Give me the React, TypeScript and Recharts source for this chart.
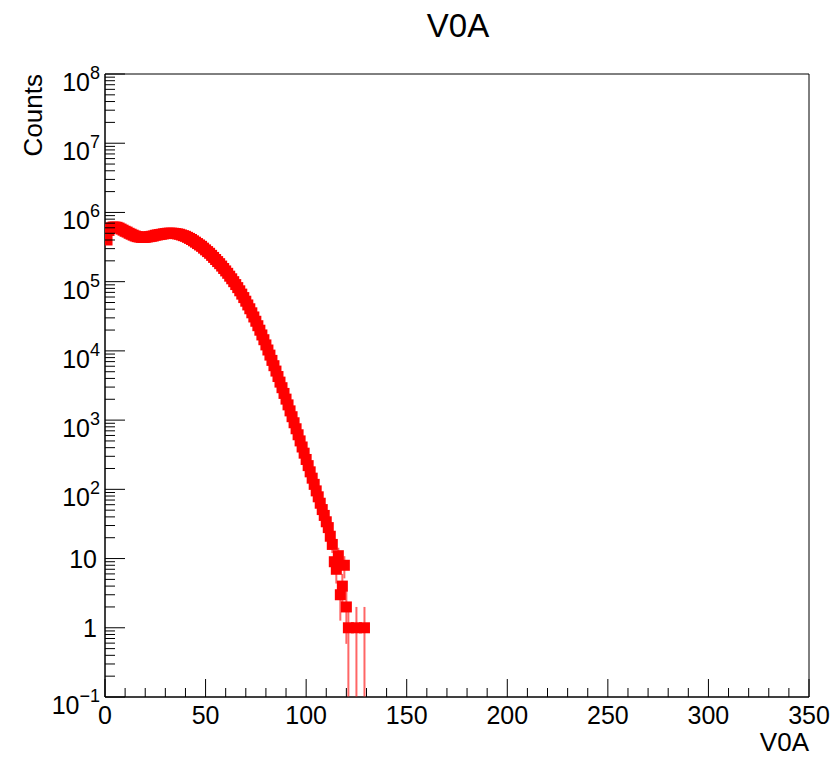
import React from "react";
import { ScatterChart, Scatter, XAxis, YAxis, ErrorBar, ReferenceArea } from "recharts";

// V0A histogram, one entry per bin (bin centre = index), 0 = empty bin
const binWidth = 1;
const counts = [
  560000, 400000, 550000, 600000, 615000, 615000, 610000, 595000, 575000, 555000,
  535000, 520000, 500000, 485000, 470000, 457000, 447000, 442000, 437000, 436000,
  437000, 442000, 447000, 452000, 457000, 468000, 473000, 479000, 484000, 490000,
  495000, 500000, 502000, 502000, 500000, 495000, 490000, 484000, 473000, 462000,
  452000, 437000, 422000, 407000, 389000, 372000, 355000, 339000, 324000, 305000,
  288000, 272000, 257000, 240000, 224000, 209000, 195000, 182000, 168000, 155000,
  143000, 132000, 120000, 110000, 100000, 90800, 82000, 73800, 66100, 58900,
  52200, 46100, 40600, 35500, 30900, 26800, 23100, 19900, 17000, 14500,
  12200, 10300, 8690, 7290, 6110, 5110, 4260, 3540, 2940, 2430,
  2010, 1660, 1360, 1120, 916, 750, 614, 501, 409, 333,
  270, 220, 179, 145, 118, 95, 78, 63, 51, 42,
  34, 28, 21, 16, 9, 7, 11, 3, 4, 8,
  2, 1, 0, 0, 0, 1, 0, 0, 0, 1,
];

const xTicks = [0, 10, 20, 30, 40, 50, 60, 70, 80, 90, 100, 110, 120, 130, 140, 150, 160, 170, 180,
  190, 200, 210, 220, 230, 240, 250, 260, 270, 280, 290, 300, 310, 320, 330, 340, 350];
const xLabelTicks = [0, 50, 100, 150, 200, 250, 300, 350];
const yDecades = [0.1, 1, 10, 100, 1e3, 1e4, 1e5, 1e6, 1e7, 1e8];
const yMinorSteps = [2, 3, 4, 5, 6, 7, 8, 9];

const yMin = 0.1;
const yMax = 1e8;

const yTicks: number[] = [];
yDecades.forEach((d) => {
  yTicks.push(d);
  if (d < yMax) yMinorSteps.forEach((m) => yTicks.push(d * m));
});

// poisson errors, lower side clipped at the bottom of the frame
const data = counts
  .map((c, i) => ({ x: i * binWidth, y: c, err: [Math.min(Math.sqrt(c), c - yMin), Math.sqrt(c)] }))
  .filter((d) => d.y > 0);

const FONT = "'Liberation Sans', Arial, Helvetica, sans-serif";
const RED = "#ff0000";
const MS = 11; // marker size

const Square = (props: any) => {
  const { cx, cy } = props;
  if (cx == null || cy == null) return null;
  return <rect x={cx - MS / 2} y={cy - MS / 2} width={MS} height={MS} fill={RED} />;
};

const XTick = (props: any) => {
  const { x, y, payload } = props;
  const v = payload.value;
  const major = xLabelTicks.includes(v);
  return (
    <g>
      <line x1={x} x2={x} y1={y} y2={y - (major ? 18 : 9)} stroke="#000" strokeWidth={1} />
      {major && (
        <text x={x} y={y + 27} textAnchor="middle" fontSize={25} fontFamily={FONT} fill="#000">
          {v}
        </text>
      )}
    </g>
  );
};

const YTick = (props: any) => {
  const { x, y, payload } = props;
  const v = payload.value;
  const major = yDecades.some((d) => Math.abs(d - v) < d * 1e-6);
  let label: React.ReactNode = null;
  if (major) {
    const e = Math.round(Math.log10(v));
    if (e === 0 || e === 1) {
      label = (
        <text x={x - 8} y={y + 9} textAnchor="end" fontSize={25} fontFamily={FONT} fill="#000">
          {e === 0 ? "1" : "10"}
        </text>
      );
    } else {
      label = (
        <text x={x - 5} y={y + 17} textAnchor="end" fontSize={25} fontFamily={FONT} fill="#000">
          10
          <tspan dy={-12} fontSize={18}>{e < 0 ? "\u2212" + Math.abs(e) : String(e)}</tspan>
        </text>
      );
    }
  }
  return (
    <g>
      <line x1={x} x2={x + (major ? 20 : 10)} y1={y} y2={y} stroke="#000" strokeWidth={1} />
      {label}
    </g>
  );
};

export default function App() {
  return (
    <div style={{ position: "absolute", left: 0, top: 0, width: 836, height: 757, background: "#fff" }}>
      <div
        style={{
          position: "absolute", left: 0, width: 916, top: 8, textAlign: "center",
          fontFamily: FONT, fontSize: 33, lineHeight: "36px", color: "#000",
        }}
      >
        V0A
      </div>
      <ScatterChart width={836} height={757} margin={{ top: 74, right: 27, bottom: 0, left: 0 }}>
        <XAxis
          type="number"
          dataKey="x"
          domain={[0, 350]}
          ticks={xTicks}
          interval={0}
          height={60}
          tickSize={0}
          tickMargin={0}
          tickLine={false}
          axisLine={{ stroke: "#000" }}
          tick={<XTick />}
          allowDataOverflow
          label={{
            content: (p: any) => {
              const vb = p.viewBox;
              return (
                <text x={vb.x + vb.width} y={vb.y + 54} textAnchor="end" fontSize={26} fontFamily={FONT} fill="#000">
                  V0A
                </text>
              );
            },
          }}
        />
        <YAxis
          type="number"
          dataKey="y"
          scale="log"
          domain={[yMin, yMax]}
          ticks={yTicks}
          interval={0}
          width={105}
          tickSize={0}
          tickMargin={0}
          tickLine={false}
          axisLine={{ stroke: "#000" }}
          tick={<YTick />}
          allowDataOverflow
          label={{
            content: (p: any) => {
              const vb = p.viewBox;
              return (
                <text
                  transform={`translate(${vb.x + 42}, ${vb.y}) rotate(-90)`}
                  textAnchor="end"
                  fontSize={26}
                  fontFamily={FONT}
                  fill="#000"
                >
                  Counts
                </text>
              );
            },
          }}
        />
        <ReferenceArea x1={0} x2={350} y1={yMin} y2={yMax} fill="none" stroke="#000" strokeWidth={1} />
        <Scatter data={data} dataKey="y" shape={<Square />} isAnimationActive={false}>
          <ErrorBar dataKey="err" direction="y" width={0} stroke="#ff6666" strokeWidth={2} />
        </Scatter>
      </ScatterChart>
    </div>
  );
}
